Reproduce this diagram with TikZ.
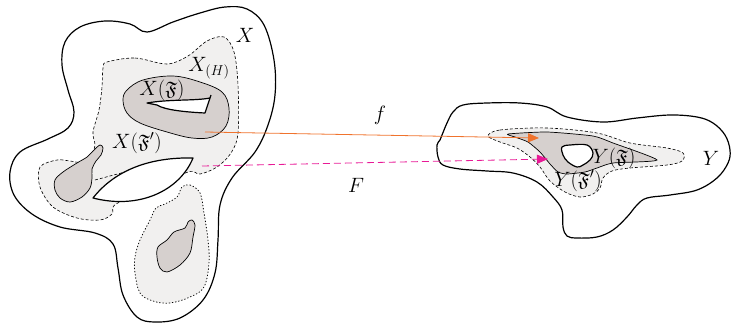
\documentclass[tikz,border=0pt]{standalone}
\usepackage{amssymb}
\usetikzlibrary{arrows.meta}
\definecolor{lightreg}{RGB}{241,240,239}
\definecolor{darkreg}{RGB}{214,208,206}
\definecolor{forange}{RGB}{240,115,45}
\definecolor{fmag}{RGB}{232,25,150}
\tikzset{
  outerline/.style={line width=1.2pt, fill=white},
  lightdash/.style={fill=lightreg, dash pattern=on 3pt off 2pt, line width=0.6pt},
  lightdot/.style={fill=lightreg, dash pattern=on 0.8pt off 2.4pt, line cap=round, line width=0.8pt},
  grayblob/.style={fill=darkreg, line width=0.7pt},
  holeline/.style={fill=white, line width=1.2pt, line join=round},
  lbl/.style={font=\fontsize{19.5}{22}\selectfont, inner sep=0pt},
  maparrow/.style={line width=0.8pt, -{Triangle[length=11pt,width=9pt]}}
}
\begin{document}
\begin{tikzpicture}[x=1pt,y=-1pt]
\useasboundingbox (0,0) rectangle (731,325);

% ---------- space X ----------
\draw[outerline] plot[smooth cycle, tension=0.6] coordinates {
 (147,32) (130,24) (105,21) (80,27) (65,42) (62,65) (68,90) (74,112) (68,128)
 (48,139) (20,152) (10,172) (14,195) (32,214) (60,227) (95,233) (113,244)
 (118,268) (123,295) (137,317) (155,322) (180,318) (203,300) (215,273) (218,240)
 (220,205) (232,178) (255,152) (268,125) (275,95) (274,60) (264,25) (247,9)
 (225,7) (200,13) (173,22)};

% X_(H) light region
\draw[lightdash] plot[smooth cycle, tension=0.55] coordinates {
 (107,62) (135,58) (167,64) (188,56) (207,41) (224,37) (234,52) (238,85)
 (238,133) (231,153) (217,167) (200,174) (188,172) (150,190) (116,204)
 (112,214) (100,220) (77,218) (53,207) (40,187) (40,167) (57,160) (70,161)
 (82,162) (92,153) (95,145) (93,132) (99,110) (102,87) (103,68)};
\draw[dash pattern=on 3pt off 2pt, line width=0.6pt] plot[smooth, tension=0.6] coordinates {(95,180) (125,172) (152,165)};

% dotted lower region
\draw[lightdot] plot[smooth cycle, tension=0.6] coordinates {
 (182,187) (190,185) (200,193) (204,213) (208,240) (209,263) (204,287) (190,297)
 (170,303) (153,301) (140,293) (135,273) (135,257) (140,240) (150,220) (156,208)
 (165,204) (177,197)};

% gray blobs
\draw[grayblob] plot[smooth cycle, tension=0.55] coordinates {
 (100,145) (103,148) (101,155) (96,161) (92,169) (92,178) (90,188) (82,197)
 (70,202) (60,198) (55,190) (55,180) (63,172) (77,163) (87,157) (94,150)};
\draw[grayblob] plot[smooth cycle, tension=0.55] coordinates {
 (192,220) (195,225) (193,237) (190,253) (180,265) (167,272) (160,268) (157,257)
 (158,247) (167,240) (174,232) (185,228) (188,222)};

% X(F) annulus
\draw[grayblob] plot[smooth cycle, tension=0.6] coordinates {
 (123,100) (127,90) (143,80) (173,76) (200,82) (222,92) (229,108) (226,126)
 (212,137) (192,138) (167,132) (140,123) (127,113)};
\draw[holeline] (147,103) .. controls (170,99) and (195,101) .. (210,98)
  -- (205,113) .. controls (185,112) and (165,110) .. (157,105) -- cycle;
\draw[line width=1.2pt] (210,98) -- (211,95);

% lens hole
\draw[holeline] (93,198) .. controls (115,170) and (150,157) .. (193,158)
  .. controls (180,190) and (140,210) .. (93,198) -- cycle;

% labels X
\node[lbl] (lX) at (245,35) {$X$};
\node[lbl] (lXH) at (209,68) {$X_{(H)}$};
\node[lbl] (lXF) at (162,90) {$X(\mathfrak{F})$};
\node[lbl] (lXFp) at (137,143) {$X(\mathfrak{F}')$};

% ---------- space Y ----------
\draw[outerline] plot[smooth cycle, tension=0.6] coordinates {
 (487,103) (520,103) (547,107) (567,117) (603,122) (637,118) (670,115) (697,117)
 (713,123) (725,135) (730,150) (728,163) (717,178) (697,190) (670,195) (647,198)
 (637,205) (627,217) (613,230) (597,237) (577,238) (567,236) (563,227) (562,210)
 (553,197) (537,182) (513,173) (487,171) (460,169) (443,165) (438,157) (437,145)
 (440,140) (442,135) (447,123) (453,112) (463,105)};

\draw[lightdash] plot[smooth cycle, tension=0.55] coordinates {
 (488,136) (500,130) (547,128) (597,133) (630,143) (667,148) (683,153) (682,161)
 (667,165) (630,168) (612,171) (603,178) (600,188) (593,194) (580,197) (565,192)
 (550,181) (540,167) (530,157) (517,148) (500,142)};

\draw[grayblob] plot[smooth cycle, tension=0.35] coordinates {
 (508,134) (547,132) (593,136) (613,143) (657,160) (613,163) (597,168) (585,172)
 (567,174) (558,172) (550,164) (540,152) (528,142) (515,137)};

\draw[holeline] plot[smooth cycle, tension=0.6] coordinates {
 (562,147) (570,145) (587,145) (593,153) (590,160) (583,165) (577,167) (568,162) (563,155)};

\node[lbl] (lY) at (711,158) {$Y$};
\node[lbl] (lYF) at (614,158) {$Y(\mathfrak{F})$};
\node[lbl] (lYFp) at (578,181) {$Y(\mathfrak{F}')$};

% ---------- maps ----------
\coordinate (fs) at (205,132);
\coordinate (fe) at (539,138);
\coordinate (Fs) at (202,166);
\coordinate (Fe) at (548,159);
\draw[maparrow, forange] (fs) -- (fe);
\draw[maparrow, fmag, dash pattern=on 7pt off 4pt] (Fs) -- (Fe);
\node[lbl] (lf) at (380,115) {$f$};
\node[lbl] (lF) at (356,185) {$F$};
\end{tikzpicture}
\end{document}
